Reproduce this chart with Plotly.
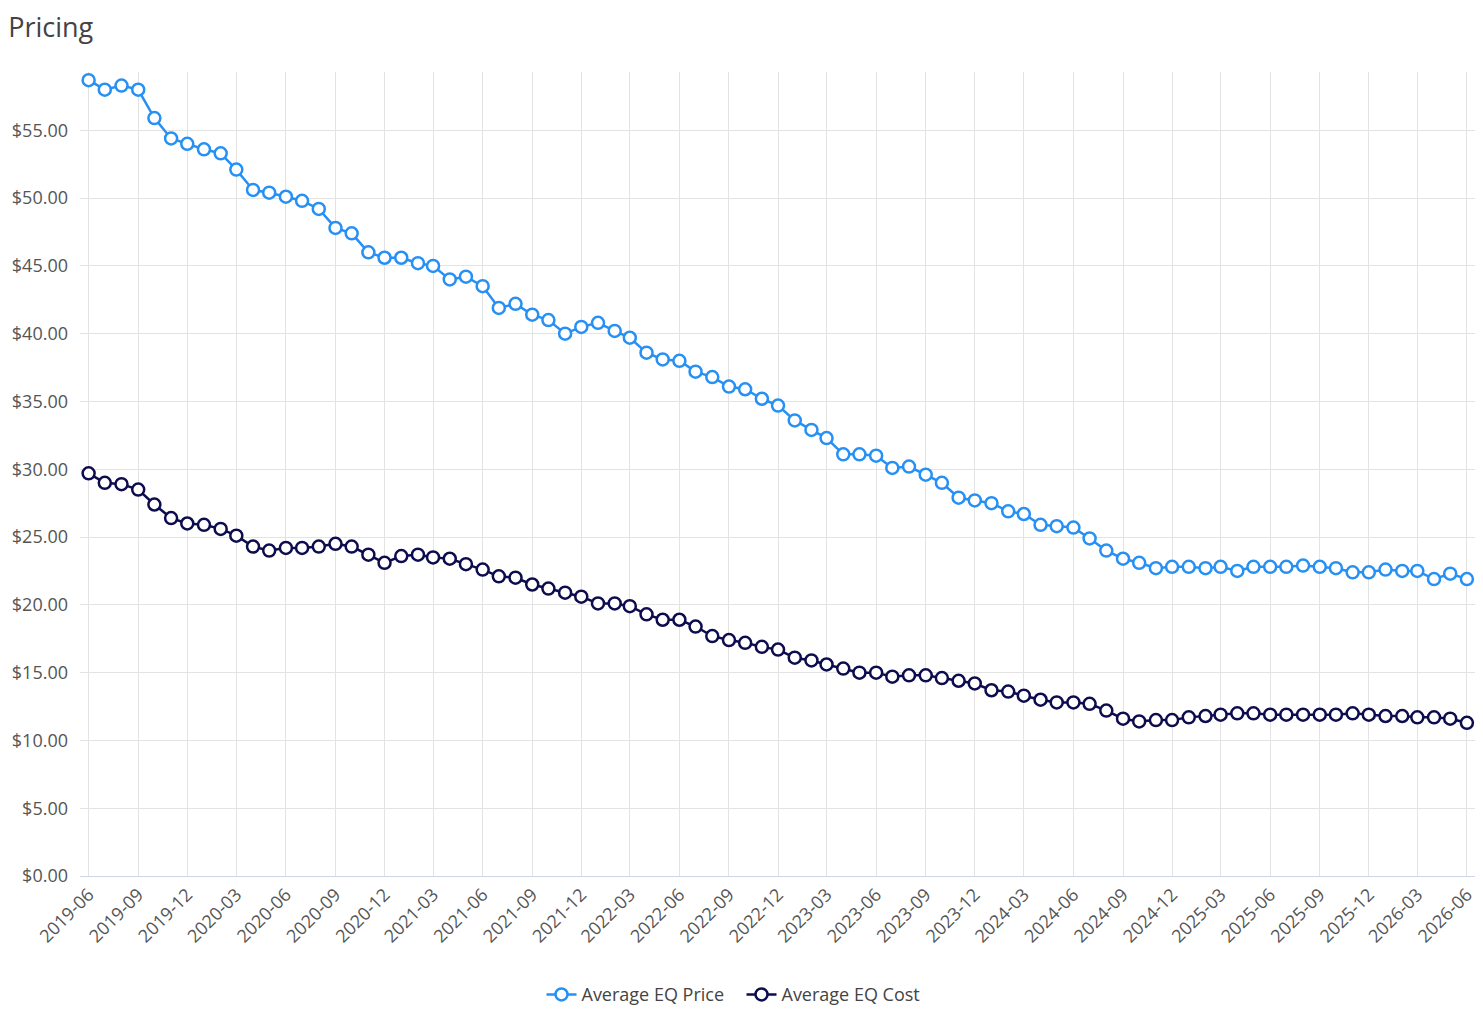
import plotly.graph_objects as go
import pandas as pd

months = pd.date_range("2019-06-01", "2026-06-01", freq="MS").strftime("%Y-%m-%d").tolist()

avg_price = [58.7, 58.0, 58.3, 58.0, 55.9, 54.4, 54.0, 53.6, 53.3, 52.1,
             50.6, 50.4, 50.1, 49.8, 49.2, 47.8, 47.4, 46.0, 45.6, 45.6,
             45.2, 45.0, 44.0, 44.2, 43.5, 41.9, 42.2, 41.4, 41.0, 40.0,
             40.5, 40.8, 40.2, 39.7, 38.6, 38.1, 38.0, 37.2, 36.8, 36.1,
             35.9, 35.2, 34.7, 33.6, 32.9, 32.3, 31.1, 31.1, 31.0, 30.1,
             30.2, 29.6, 29.0, 27.9, 27.7, 27.5, 26.9, 26.7, 25.9, 25.8,
             25.7, 24.9, 24.0, 23.4, 23.1, 22.7, 22.8, 22.8, 22.7, 22.8,
             22.5, 22.8, 22.8, 22.8, 22.9, 22.8, 22.7, 22.4, 22.4, 22.6,
             22.5, 22.5, 21.9, 22.3, 21.9]

avg_cost = [29.7, 29.0, 28.9, 28.5, 27.4, 26.4, 26.0, 25.9, 25.6, 25.1,
            24.3, 24.0, 24.2, 24.2, 24.3, 24.5, 24.3, 23.7, 23.1, 23.6,
            23.7, 23.5, 23.4, 23.0, 22.6, 22.1, 22.0, 21.5, 21.2, 20.9,
            20.6, 20.1, 20.1, 19.9, 19.3, 18.9, 18.9, 18.4, 17.7, 17.4,
            17.2, 16.9, 16.7, 16.1, 15.9, 15.6, 15.3, 15.0, 15.0, 14.7,
            14.8, 14.8, 14.6, 14.4, 14.2, 13.7, 13.6, 13.3, 13.0, 12.8,
            12.8, 12.7, 12.2, 11.6, 11.4, 11.5, 11.5, 11.7, 11.8, 11.9,
            12.0, 12.0, 11.9, 11.9, 11.9, 11.9, 11.9, 12.0, 11.9, 11.8,
            11.8, 11.7, 11.7, 11.6, 11.3]

series_names = ["Average EQ Price", "Average EQ Cost"]
colors = ["#2690f4", "#0c0c4e"]

fig = go.Figure()
for name, vals, col in zip(series_names, [avg_price, avg_cost], colors):
    fig.add_trace(go.Scatter(
        x=months, y=vals, name=name, mode="lines+markers",
        line=dict(color=col, width=2.5),
        marker=dict(symbol="circle", size=12, color="white",
                    line=dict(color=col, width=2.5)),
    ))

fig.update_layout(
    width=1483, height=1013,
    paper_bgcolor="white", plot_bgcolor="white",
    font=dict(family="Open Sans", color="#555555"),
    title=dict(text="Pricing", x=0.0055, xanchor="left", y=0.973, yanchor="middle",
               font=dict(size=27, color="#444444", family="Open Sans")),
    margin=dict(l=80, r=8, t=72, b=137, autoexpand=False),
    showlegend=True,
    legend=dict(orientation="h", xref="container", x=0.5, xanchor="center",
                yref="container", y=0.018, yanchor="middle",
                font=dict(size=18, color="#444444"), itemwidth=30,
                entrywidth=155),
    xaxis=dict(
        type="date",
        range=["2019-05-16", "2026-06-16"],
        tick0="2019-06-01", dtick="M3", tickformat="%Y-%m",
        tickangle=-45,
        tickfont=dict(size=18, color="#555555"),
        showgrid=True, gridcolor="#e3e3e3", gridwidth=1,
        showline=True, linecolor="#ccd6eb", linewidth=1,
        ticks="", zeroline=False, automargin=False,
    ),
    yaxis=dict(
        range=[0, 59.3],
        tick0=0, dtick=5, tickformat="$.2f",
        tickfont=dict(size=18, color="#555555"),
        showgrid=True, gridcolor="#e3e3e3", gridwidth=1,
        zeroline=False, showline=False, ticks="", automargin=False,
        ticklabelstandoff=11,
    ),
)

fig.write_html("out.html")
